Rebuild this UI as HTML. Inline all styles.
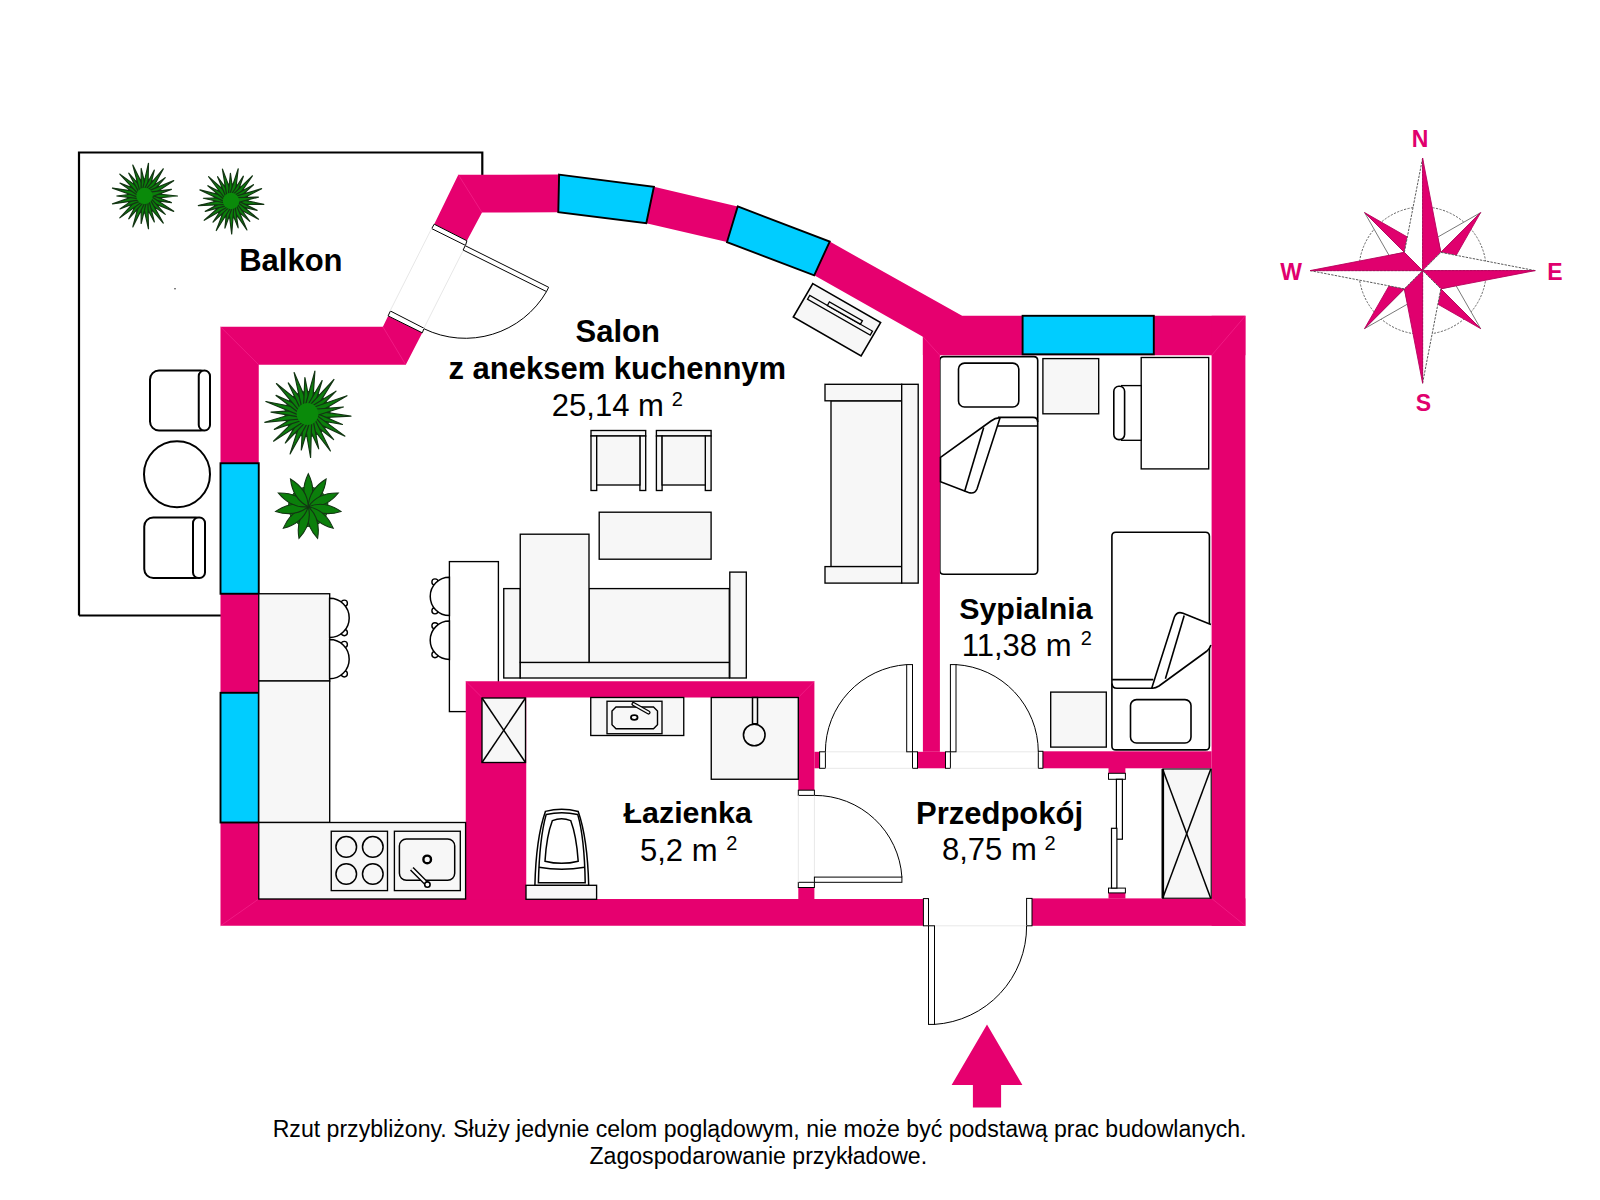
<!DOCTYPE html><html><head><meta charset="utf-8"><style>html,body{margin:0;padding:0;background:#fff;overflow:hidden;width:1600px;height:1200px;}svg{display:block;}text{font-family:"Liberation Sans",sans-serif;}</style></head><body>
<svg width="1600" height="1200" viewBox="0 0 1600 1200">
<rect width="1600" height="1200" fill="#fff"/>
<path d="M79,615.5 V152.5 H482.3 V176 M79,615.5 H221" fill="none" stroke="#000" stroke-width="2.2"/>
<circle cx="175" cy="288.8" r="0.8" fill="#333"/>
<path d="M939.8,360.4 Q939.8,356.6 943.8,356.6 H1033.7 Q1037.7,356.6 1037.7,360.6 V570.2 Q1037.7,574.2 1033.7,574.2 H943.8 Q939.8,574.2 939.8,570.2 Z" fill="#fff" stroke="#000" stroke-width="1.6"/>
<rect x="449.40" y="561.60" width="49.00" height="150.00" rx="0" fill="#fff" stroke="#000" stroke-width="1.35" />
<circle cx="434.98" cy="581.98" r="3.1" fill="#fff" stroke="#000" stroke-width="1.4"/>
<circle cx="434.98" cy="610.82" r="3.1" fill="#fff" stroke="#000" stroke-width="1.4"/>
<path d="M449.4,577.2 A19.20,19.20 0 0 0 449.4,615.6 Z" fill="#fff" stroke="#000" stroke-width="1.5"/>
<circle cx="434.98" cy="625.78" r="3.1" fill="#fff" stroke="#000" stroke-width="1.4"/>
<circle cx="434.98" cy="654.62" r="3.1" fill="#fff" stroke="#000" stroke-width="1.4"/>
<path d="M449.4,621 A19.20,19.20 0 0 0 449.4,659.4 Z" fill="#fff" stroke="#000" stroke-width="1.5"/>
<polygon points="458.30,174.70 559.10,174.60 653.90,186.70 737.70,206.40 829.70,241.60 962.10,315.80 1245.40,315.80 1245.40,355.30 922.90,355.30 922.90,336.70 814.20,275.30 727.00,242.10 646.30,223.30 558.30,212.20 482.00,212.50 466.90,240.80 434.20,224.20" fill="#E6006F" stroke="none" stroke-width="0" />
<polygon points="220.50,326.80 382.90,326.80 388.10,315.90 422.30,332.80 405.80,364.80 258.75,364.80 258.75,899.00 923.40,899.00 923.40,925.80 220.50,925.80" fill="#E6006F" stroke="none" stroke-width="0" />
<polygon points="465.75,681.25 814.40,681.25 814.40,790.20 798.30,790.20 798.30,697.50 526.25,697.50 526.25,899.50 465.75,899.50" fill="#E6006F" stroke="none" stroke-width="0" />
<rect x="798.30" y="887.50" width="16.10" height="12.00" rx="0" fill="#E6006F" stroke="none" stroke-width="0" />
<rect x="814.40" y="751.80" width="5.20" height="16.50" rx="0" fill="#E6006F" stroke="none" stroke-width="0" />
<rect x="922.90" y="336.00" width="17.00" height="415.80" rx="0" fill="#E6006F" stroke="none" stroke-width="0" />
<rect x="917.50" y="751.80" width="28.00" height="16.50" rx="0" fill="#E6006F" stroke="none" stroke-width="0" />
<rect x="1211.60" y="315.80" width="33.80" height="610.00" rx="0" fill="#E6006F" stroke="none" stroke-width="0" />
<rect x="1042.90" y="751.30" width="168.70" height="17.00" rx="0" fill="#E6006F" stroke="none" stroke-width="0" />
<rect x="1032.00" y="898.40" width="213.40" height="27.40" rx="0" fill="#E6006F" stroke="none" stroke-width="0" />
<rect x="1108.50" y="768.00" width="16.90" height="5.30" rx="0" fill="#E6006F" stroke="none" stroke-width="0" />
<rect x="1108.50" y="892.90" width="16.90" height="5.70" rx="0" fill="#E6006F" stroke="none" stroke-width="0" />
<line x1="220.50" y1="326.80" x2="258.75" y2="364.80" stroke="#FF3DA0" stroke-width="0.7" opacity="0.6"/>
<line x1="382.90" y1="326.80" x2="405.80" y2="364.80" stroke="#FF3DA0" stroke-width="0.7" opacity="0.6"/>
<line x1="458.30" y1="174.70" x2="482.00" y2="212.50" stroke="#FF3DA0" stroke-width="0.7" opacity="0.6"/>
<line x1="922.90" y1="336.70" x2="939.90" y2="355.30" stroke="#FF3DA0" stroke-width="0.7" opacity="0.6"/>
<line x1="1245.40" y1="315.80" x2="1211.60" y2="355.30" stroke="#FF3DA0" stroke-width="0.7" opacity="0.6"/>
<line x1="1245.40" y1="925.80" x2="1211.60" y2="898.40" stroke="#FF3DA0" stroke-width="0.7" opacity="0.6"/>
<line x1="220.50" y1="925.80" x2="258.75" y2="899.00" stroke="#FF3DA0" stroke-width="0.7" opacity="0.6"/>
<line x1="465.75" y1="681.25" x2="482.00" y2="697.50" stroke="#FF3DA0" stroke-width="0.7" opacity="0.6"/>
<line x1="814.40" y1="681.25" x2="798.30" y2="697.50" stroke="#FF3DA0" stroke-width="0.7" opacity="0.6"/>
<polygon points="388.10,315.90 390.40,311.00 424.10,328.30 422.30,332.80" fill="#fff" stroke="#000" stroke-width="1" />
<polygon points="434.20,224.20 431.70,228.60 465.50,245.40 466.90,240.80" fill="#fff" stroke="#000" stroke-width="1" />
<rect x="798.30" y="882.30" width="16.10" height="5.20" rx="0" fill="#fff" stroke="#000" stroke-width="1" />
<rect x="798.30" y="790.20" width="16.10" height="5.20" rx="0" fill="#fff" stroke="#000" stroke-width="1" />
<rect x="819.60" y="751.80" width="5.80" height="16.50" rx="0" fill="#fff" stroke="#000" stroke-width="1" />
<rect x="912.50" y="751.80" width="5.00" height="16.50" rx="0" fill="#fff" stroke="#000" stroke-width="1" />
<rect x="945.50" y="751.80" width="4.90" height="16.50" rx="0" fill="#fff" stroke="#000" stroke-width="1" />
<rect x="1038.30" y="751.30" width="4.60" height="17.00" rx="0" fill="#fff" stroke="#000" stroke-width="1" />
<rect x="1026.60" y="898.40" width="5.40" height="27.40" rx="0" fill="#fff" stroke="#000" stroke-width="1" />
<rect x="923.40" y="898.60" width="5.10" height="27.20" rx="0" fill="#fff" stroke="#000" stroke-width="1" />
<rect x="1108.50" y="773.30" width="16.90" height="6.00" rx="0" fill="#fff" stroke="#000" stroke-width="1" />
<rect x="1108.50" y="888.10" width="16.90" height="4.80" rx="0" fill="#fff" stroke="#000" stroke-width="1" />
<line x1="825.40" y1="751.80" x2="912.50" y2="751.80" stroke="#e8e8e8" stroke-width="1" />
<line x1="825.40" y1="768.30" x2="912.50" y2="768.30" stroke="#e8e8e8" stroke-width="1" />
<line x1="950.40" y1="751.80" x2="1038.30" y2="751.80" stroke="#e8e8e8" stroke-width="1" />
<line x1="950.40" y1="768.30" x2="1038.30" y2="768.30" stroke="#e8e8e8" stroke-width="1" />
<line x1="928.50" y1="925.80" x2="1026.60" y2="925.80" stroke="#e8e8e8" stroke-width="1" />
<line x1="431.80" y1="228.20" x2="389.80" y2="311.50" stroke="#e8e8e8" stroke-width="1" />
<line x1="465.80" y1="245.30" x2="423.50" y2="329.00" stroke="#e8e8e8" stroke-width="1" />
<line x1="798.30" y1="795.40" x2="798.30" y2="882.30" stroke="#e8e8e8" stroke-width="1" />
<line x1="814.40" y1="795.40" x2="814.40" y2="882.30" stroke="#e8e8e8" stroke-width="1" />
<polygon points="559.10,174.60 653.90,186.70 646.30,223.30 558.30,212.20" fill="#00CDFF" stroke="#000" stroke-width="1.9" />
<polygon points="737.70,206.40 829.70,241.60 814.20,275.30 727.00,242.10" fill="#00CDFF" stroke="#000" stroke-width="1.9" />
<rect x="1022.60" y="315.80" width="131.20" height="38.50" rx="0" fill="#00CDFF" stroke="#000" stroke-width="1.9" />
<rect x="220.50" y="463.25" width="38.25" height="130.50" rx="0" fill="#00CDFF" stroke="#000" stroke-width="1.9" />
<rect x="220.50" y="692.80" width="38.25" height="129.70" rx="0" fill="#00CDFF" stroke="#000" stroke-width="1.9" />
<polygon points="463.10,250.00 546.51,291.59 548.65,287.29 465.24,245.70" fill="#fff" stroke="#000" stroke-width="1" />
<path d="M546.51,291.59 A94,94 0 0 1 424.1,328.8" fill="none" stroke="#000" stroke-width="1"/>
<rect x="906.70" y="664.60" width="5.80" height="87.20" rx="0" fill="#fff" stroke="#000" stroke-width="1" />
<path d="M906.7,664.6 A87.2,87.2 0 0 0 825.4,751.8" fill="none" stroke="#000" stroke-width="1"/>
<rect x="950.40" y="664.60" width="5.60" height="87.20" rx="0" fill="#fff" stroke="#000" stroke-width="1" />
<path d="M956,664.6 A87.6,87.6 0 0 1 1038.3,751.8" fill="none" stroke="#000" stroke-width="1"/>
<rect x="814.40" y="877.10" width="87.50" height="5.20" rx="0" fill="#fff" stroke="#000" stroke-width="1" />
<path d="M901.9,877.1 A87.2,87.2 0 0 0 814.4,795.4" fill="none" stroke="#000" stroke-width="1"/>
<rect x="928.50" y="925.80" width="6.00" height="98.60" rx="0" fill="#fff" stroke="#000" stroke-width="1" />
<path d="M934.5,1024.4 A98.3,98.3 0 0 0 1026.6,925.8" fill="none" stroke="#000" stroke-width="1"/>
<rect x="258.75" y="593.75" width="70.95" height="87.25" rx="0" fill="#F7F7F7" stroke="#000" stroke-width="1.35" />
<rect x="258.75" y="681.00" width="70.95" height="141.50" rx="0" fill="#F7F7F7" stroke="#000" stroke-width="1.35" />
<rect x="258.75" y="822.50" width="206.85" height="76.50" rx="0" fill="#F7F7F7" stroke="#000" stroke-width="1.35" />
<rect x="331.25" y="831.25" width="56.25" height="59.35" rx="0" fill="#F7F7F7" stroke="#000" stroke-width="1.35" />
<circle cx="346.25" cy="846.9" r="10.3" fill="none" stroke="#000" stroke-width="1.5"/>
<circle cx="372.8" cy="846.9" r="10.3" fill="none" stroke="#000" stroke-width="1.5"/>
<circle cx="346.25" cy="874" r="10.3" fill="none" stroke="#000" stroke-width="1.5"/>
<circle cx="372.8" cy="874" r="10.3" fill="none" stroke="#000" stroke-width="1.5"/>
<rect x="394.40" y="831.25" width="65.90" height="59.35" rx="0" fill="#F7F7F7" stroke="#000" stroke-width="1.35" />
<rect x="399.40" y="839.00" width="55.30" height="41.30" rx="7" fill="#F7F7F7" stroke="#000" stroke-width="1.5" />
<circle cx="427.2" cy="859.4" r="3.8" fill="none" stroke="#000" stroke-width="2.4"/>
<line x1="411.8" y1="868.8" x2="426.5" y2="883.5" stroke="#000" stroke-width="5" stroke-linecap="butt"/>
<line x1="411.8" y1="868.8" x2="426.5" y2="883.5" stroke="#fff" stroke-width="2.2" stroke-linecap="butt"/>
<circle cx="427.4" cy="884.6" r="2.7" fill="#fff" stroke="#000" stroke-width="1.6"/>
<circle cx="344.31" cy="603.19" r="3.1" fill="#fff" stroke="#000" stroke-width="1.4"/>
<circle cx="344.31" cy="632.61" r="3.1" fill="#fff" stroke="#000" stroke-width="1.4"/>
<path d="M329.6,598.3 A19.60,19.60 0 0 1 329.6,637.5 Z" fill="#fff" stroke="#000" stroke-width="1.5"/>
<circle cx="344.29" cy="644.48" r="3.1" fill="#fff" stroke="#000" stroke-width="1.4"/>
<circle cx="344.29" cy="673.87" r="3.1" fill="#fff" stroke="#000" stroke-width="1.4"/>
<path d="M329.6,639.6 A19.57,19.57 0 0 1 329.6,678.75 Z" fill="#fff" stroke="#000" stroke-width="1.5"/>
<rect x="150.00" y="370.50" width="60.00" height="60.00" rx="9" fill="#fff" stroke="#000" stroke-width="2" />
<rect x="198.75" y="370.50" width="11.25" height="60.00" rx="5.5" fill="#fff" stroke="#000" stroke-width="2" />
<circle cx="177" cy="474.25" r="33" fill="#fff" stroke="#000" stroke-width="2"/>
<rect x="144.25" y="517.50" width="60.75" height="60.50" rx="9" fill="#fff" stroke="#000" stroke-width="2" />
<rect x="193.00" y="517.50" width="12.00" height="60.50" rx="5.5" fill="#fff" stroke="#000" stroke-width="2" />
<rect x="591.00" y="430.50" width="54.70" height="5.50" rx="0" fill="#F7F7F7" stroke="#000" stroke-width="1.35" />
<rect x="591.00" y="436.00" width="5.70" height="54.50" rx="0" fill="#F7F7F7" stroke="#000" stroke-width="1.35" />
<rect x="639.90" y="436.00" width="5.80" height="54.50" rx="0" fill="#F7F7F7" stroke="#000" stroke-width="1.35" />
<rect x="596.70" y="436.00" width="43.20" height="49.00" rx="0" fill="#F7F7F7" stroke="#000" stroke-width="1.35" />
<rect x="656.40" y="430.50" width="54.70" height="5.50" rx="0" fill="#F7F7F7" stroke="#000" stroke-width="1.35" />
<rect x="656.40" y="436.00" width="5.70" height="54.50" rx="0" fill="#F7F7F7" stroke="#000" stroke-width="1.35" />
<rect x="705.30" y="436.00" width="5.80" height="54.50" rx="0" fill="#F7F7F7" stroke="#000" stroke-width="1.35" />
<rect x="662.10" y="436.00" width="43.20" height="49.00" rx="0" fill="#F7F7F7" stroke="#000" stroke-width="1.35" />
<rect x="599.20" y="512.20" width="111.90" height="47.00" rx="0" fill="#F7F7F7" stroke="#000" stroke-width="1.35" />
<rect x="503.75" y="588.60" width="16.50" height="89.40" rx="0" fill="#F7F7F7" stroke="#000" stroke-width="1.35" />
<rect x="520.25" y="662.40" width="209.05" height="15.60" rx="0" fill="#F7F7F7" stroke="#000" stroke-width="1.35" />
<rect x="589.00" y="588.60" width="140.30" height="73.80" rx="0" fill="#F7F7F7" stroke="#000" stroke-width="1.35" />
<rect x="520.25" y="534.20" width="68.75" height="128.20" rx="0" fill="#F7F7F7" stroke="#000" stroke-width="1.35" />
<rect x="729.80" y="572.10" width="16.50" height="105.90" rx="0" fill="#F7F7F7" stroke="#000" stroke-width="1.35" />
<rect x="831.00" y="400.80" width="70.70" height="165.80" rx="0" fill="#F7F7F7" stroke="#000" stroke-width="1.35" />
<rect x="825.00" y="384.30" width="76.70" height="16.50" rx="0" fill="#F7F7F7" stroke="#000" stroke-width="1.35" />
<rect x="825.00" y="566.60" width="76.70" height="16.50" rx="0" fill="#F7F7F7" stroke="#000" stroke-width="1.35" />
<rect x="901.70" y="384.30" width="16.50" height="198.80" rx="0" fill="#F7F7F7" stroke="#000" stroke-width="1.35" />
<polygon points="812.80,283.60 880.60,322.60 861.10,356.00 793.30,317.00" fill="#F7F7F7" stroke="#000" stroke-width="1.6" />
<rect x="-36.10" y="-2.25" width="72.20" height="4.50" fill="#F7F7F7" stroke="#000" stroke-width="1.3" transform="translate(840.00,315.20) rotate(29.70)"/>
<rect x="-19.00" y="-2.00" width="38.00" height="4.00" fill="#F7F7F7" stroke="#000" stroke-width="1.3" transform="translate(844.90,313.10) rotate(29.70)"/>
<rect x="958.50" y="363.10" width="60.30" height="43.90" rx="6" fill="#fff" stroke="#000" stroke-width="1.6" />
<path d="M997.6,426 H1037.7 M998,417.4 H1033 Q1037.7,417.4 1037.7,422" fill="none" stroke="#000" stroke-width="1.6"/>
<path d="M940.5,457.4 L991,421 Q996,417.4 1000,418 L977,489 Q974.5,494.5 968.5,492.5 L940.5,481.8 Z" fill="#fff" stroke="#000" stroke-width="1.6"/>
<line x1="983.70" y1="427.60" x2="964.60" y2="491.40" stroke="#000" stroke-width="1.6" />
<rect x="1042.90" y="358.60" width="55.80" height="55.20" rx="0" fill="#F7F7F7" stroke="#000" stroke-width="1.35" />
<rect x="1141.20" y="357.50" width="67.50" height="111.40" rx="0" fill="#fff" stroke="#000" stroke-width="1.35" />
<rect x="1121.60" y="385.60" width="19.60" height="54.70" rx="0" fill="#fff" stroke="#000" stroke-width="1.35" />
<rect x="1113.80" y="386.30" width="10.80" height="53.30" rx="5" fill="#fff" stroke="#000" stroke-width="1.6" />
<path d="M1115.9,532.2 H1205.4 Q1209.4,532.2 1209.4,536.2 V745.9 Q1209.4,749.9 1205.4,749.9 H1115.9 Q1111.9,749.9 1111.9,745.9 V536.2 Q1111.9,532.2 1115.9,532.2 Z" fill="#fff" stroke="#000" stroke-width="1.6"/>
<rect x="1130.50" y="699.60" width="60.50" height="43.40" rx="6" fill="#fff" stroke="#000" stroke-width="1.6" />
<path d="M1112.1,679.6 H1153.3" fill="none" stroke="#000" stroke-width="1.6"/>
<path d="M1112.1,683.5 Q1112.1,688.3 1117,688.3 H1152" fill="none" stroke="#000" stroke-width="1.6"/>
<path d="M1210.9,624.6 L1183,613.3 Q1177,611 1174.4,617 L1151.7,688.2 Q1155,688.6 1159,686 L1207,651 Q1209.5,649 1210.9,645" fill="#fff" stroke="#000" stroke-width="1.6"/>
<line x1="1184.20" y1="615.40" x2="1165.40" y2="678.75" stroke="#000" stroke-width="1.6" />
<rect x="1050.70" y="692.10" width="55.60" height="55.00" rx="0" fill="#F7F7F7" stroke="#000" stroke-width="1.35" />
<rect x="1162.80" y="769.00" width="48.40" height="129.20" rx="0" fill="#F7F7F7" stroke="#000" stroke-width="1.1" />
<line x1="1162.80" y1="769.00" x2="1162.80" y2="898.20" stroke="#000" stroke-width="2.6" />
<line x1="1162.60" y1="769.10" x2="1210.80" y2="898.40" stroke="#000" stroke-width="1.5" />
<line x1="1210.80" y1="769.10" x2="1162.60" y2="898.40" stroke="#000" stroke-width="1.5" />
<rect x="1116.40" y="779.30" width="6.00" height="59.90" rx="0" fill="#fff" stroke="#000" stroke-width="1.2" />
<rect x="1111.50" y="828.30" width="5.40" height="59.80" rx="0" fill="#fff" stroke="#000" stroke-width="1.2" />
<rect x="482.00" y="698.00" width="43.50" height="64.50" rx="0" fill="#F7F7F7" stroke="#000" stroke-width="1.35" />
<line x1="482.00" y1="698.00" x2="525.50" y2="762.50" stroke="#000" stroke-width="1.5" />
<line x1="525.50" y1="698.00" x2="482.00" y2="762.50" stroke="#000" stroke-width="1.5" />
<rect x="590.75" y="697.50" width="93.00" height="38.00" rx="0" fill="#F7F7F7" stroke="#000" stroke-width="1.35" />
<rect x="607.00" y="701.25" width="55.00" height="32.50" rx="0" fill="#F7F7F7" stroke="#000" stroke-width="1.35" />
<path d="M616,707 H653.5 L657.5,711 V724.75 L653.5,728.75 H616 L612,724.75 V711 Z" fill="#f7f7f7" stroke="#000" stroke-width="1.4"/>
<ellipse cx="634.25" cy="717.5" rx="3.3" ry="2.3" fill="#fff" stroke="#000" stroke-width="1.8"/>
<line x1="633.5" y1="704" x2="648.5" y2="712.5" stroke="#000" stroke-width="4.2" stroke-linecap="round"/>
<line x1="633.5" y1="704" x2="648.5" y2="712.5" stroke="#f7f7f7" stroke-width="1.6" stroke-linecap="round"/>
<rect x="711.25" y="697.50" width="87.05" height="81.75" rx="0" fill="#F7F7F7" stroke="#000" stroke-width="1.35" />
<rect x="752.50" y="697.50" width="5.00" height="26.25" rx="0" fill="#F7F7F7" stroke="#000" stroke-width="1.5" />
<circle cx="754.25" cy="735" r="10.8" fill="#f7f7f7" stroke="#000" stroke-width="1.6"/>
<rect x="526.00" y="885.30" width="70.60" height="14.00" rx="0" fill="#F7F7F7" stroke="#000" stroke-width="1.35" />
<path d="M534.9,885.3 Q536,838 545.4,811.4 Q561.6,807 578.2,811.4 Q587.5,838 588.7,885.3 Z" fill="#fff" stroke="#000" stroke-width="1.5"/>
<path d="M538.4,882.7 Q539.5,838 546.2,814.4 Q561.6,811 577.7,814.4 Q584.5,838 585.2,882.7 Z" fill="#fff" stroke="#000" stroke-width="1.5"/>
<path d="M538.9,867.2 Q561.6,871.5 584.7,867.2" fill="none" stroke="#000" stroke-width="1.5"/>
<path d="M545,861.2 Q546.5,836 552.4,820.6 Q561.6,817 570.7,820.6 Q576.5,836 578.2,861.2 Q561.6,865.5 545,861.2 Z" fill="#fff" stroke="#000" stroke-width="1.5"/>
<g transform="translate(144.5,196)"><circle r="17.16" fill="#0B7F0B" stroke="#133513" stroke-width="1"/><polygon points="-0.00,3.30 33.00,0.00 0.00,-3.30" fill="#0B7F0B" stroke="#133513" stroke-width="1.2" stroke-linejoin="round"/><polygon points="-0.79,3.20 26.91,6.63 0.79,-3.20" fill="#0B7F0B" stroke="#133513" stroke-width="1.2" stroke-linejoin="round"/><polygon points="-1.53,2.92 29.22,15.34 1.53,-2.92" fill="#0B7F0B" stroke="#133513" stroke-width="1.2" stroke-linejoin="round"/><polygon points="-2.19,2.47 20.75,18.38 2.19,-2.47" fill="#0B7F0B" stroke="#133513" stroke-width="1.2" stroke-linejoin="round"/><polygon points="-2.72,1.87 18.75,27.16 2.72,-1.87" fill="#0B7F0B" stroke="#133513" stroke-width="1.2" stroke-linejoin="round"/><polygon points="-3.09,1.17 9.83,25.92 3.09,-1.17" fill="#0B7F0B" stroke="#133513" stroke-width="1.2" stroke-linejoin="round"/><polygon points="-3.28,0.40 3.98,32.76 3.28,-0.40" fill="#0B7F0B" stroke="#133513" stroke-width="1.2" stroke-linejoin="round"/><polygon points="-3.28,-0.40 -3.34,27.52 3.28,0.40" fill="#0B7F0B" stroke="#133513" stroke-width="1.2" stroke-linejoin="round"/><polygon points="-3.09,-1.17 -11.70,30.86 3.09,1.17" fill="#0B7F0B" stroke="#133513" stroke-width="1.2" stroke-linejoin="round"/><polygon points="-2.72,-1.87 -15.75,22.81 2.72,1.87" fill="#0B7F0B" stroke="#133513" stroke-width="1.2" stroke-linejoin="round"/><polygon points="-2.19,-2.47 -24.70,21.88 2.19,2.47" fill="#0B7F0B" stroke="#133513" stroke-width="1.2" stroke-linejoin="round"/><polygon points="-1.53,-2.92 -24.54,12.88 1.53,2.92" fill="#0B7F0B" stroke="#133513" stroke-width="1.2" stroke-linejoin="round"/><polygon points="-0.79,-3.20 -32.04,7.90 0.79,3.20" fill="#0B7F0B" stroke="#133513" stroke-width="1.2" stroke-linejoin="round"/><polygon points="0.00,-3.30 -27.72,-0.00 -0.00,3.30" fill="#0B7F0B" stroke="#133513" stroke-width="1.2" stroke-linejoin="round"/><polygon points="0.79,-3.20 -32.04,-7.90 -0.79,3.20" fill="#0B7F0B" stroke="#133513" stroke-width="1.2" stroke-linejoin="round"/><polygon points="1.53,-2.92 -24.54,-12.88 -1.53,2.92" fill="#0B7F0B" stroke="#133513" stroke-width="1.2" stroke-linejoin="round"/><polygon points="2.19,-2.47 -24.70,-21.88 -2.19,2.47" fill="#0B7F0B" stroke="#133513" stroke-width="1.2" stroke-linejoin="round"/><polygon points="2.72,-1.87 -15.75,-22.81 -2.72,1.87" fill="#0B7F0B" stroke="#133513" stroke-width="1.2" stroke-linejoin="round"/><polygon points="3.09,-1.17 -11.70,-30.86 -3.09,1.17" fill="#0B7F0B" stroke="#133513" stroke-width="1.2" stroke-linejoin="round"/><polygon points="3.28,-0.40 -3.34,-27.52 -3.28,0.40" fill="#0B7F0B" stroke="#133513" stroke-width="1.2" stroke-linejoin="round"/><polygon points="3.28,0.40 3.98,-32.76 -3.28,-0.40" fill="#0B7F0B" stroke="#133513" stroke-width="1.2" stroke-linejoin="round"/><polygon points="3.09,1.17 9.83,-25.92 -3.09,-1.17" fill="#0B7F0B" stroke="#133513" stroke-width="1.2" stroke-linejoin="round"/><polygon points="2.72,1.87 18.75,-27.16 -2.72,-1.87" fill="#0B7F0B" stroke="#133513" stroke-width="1.2" stroke-linejoin="round"/><polygon points="2.19,2.47 20.75,-18.38 -2.19,-2.47" fill="#0B7F0B" stroke="#133513" stroke-width="1.2" stroke-linejoin="round"/><polygon points="1.53,2.92 29.22,-15.34 -1.53,-2.92" fill="#0B7F0B" stroke="#133513" stroke-width="1.2" stroke-linejoin="round"/><polygon points="0.79,3.20 26.91,-6.63 -0.79,-3.20" fill="#0B7F0B" stroke="#133513" stroke-width="1.2" stroke-linejoin="round"/><circle r="8.25" fill="#0A8A0A"/></g><g transform="translate(231,201)"><circle r="17.16" fill="#0B7F0B" stroke="#133513" stroke-width="1"/><polygon points="-0.33,3.28 32.84,3.29 0.33,-3.28" fill="#0B7F0B" stroke="#133513" stroke-width="1.2" stroke-linejoin="round"/><polygon points="-1.11,3.11 26.12,9.29 1.11,-3.11" fill="#0B7F0B" stroke="#133513" stroke-width="1.2" stroke-linejoin="round"/><polygon points="-1.82,2.75 27.54,18.18 1.82,-2.75" fill="#0B7F0B" stroke="#133513" stroke-width="1.2" stroke-linejoin="round"/><polygon points="-2.42,2.24 18.81,20.36 2.42,-2.24" fill="#0B7F0B" stroke="#133513" stroke-width="1.2" stroke-linejoin="round"/><polygon points="-2.89,1.59 15.94,28.89 2.89,-1.59" fill="#0B7F0B" stroke="#133513" stroke-width="1.2" stroke-linejoin="round"/><polygon points="-3.19,0.86 7.19,26.77 3.19,-0.86" fill="#0B7F0B" stroke="#133513" stroke-width="1.2" stroke-linejoin="round"/><polygon points="-3.30,0.07 0.69,32.99 3.30,-0.07" fill="#0B7F0B" stroke="#133513" stroke-width="1.2" stroke-linejoin="round"/><polygon points="-3.22,-0.72 -6.07,27.05 3.22,0.72" fill="#0B7F0B" stroke="#133513" stroke-width="1.2" stroke-linejoin="round"/><polygon points="-2.95,-1.47 -14.72,29.53 2.95,1.47" fill="#0B7F0B" stroke="#133513" stroke-width="1.2" stroke-linejoin="round"/><polygon points="-2.52,-2.14 -17.95,21.13 2.52,2.14" fill="#0B7F0B" stroke="#133513" stroke-width="1.2" stroke-linejoin="round"/><polygon points="-1.93,-2.68 -26.76,19.31 1.93,2.68" fill="#0B7F0B" stroke="#133513" stroke-width="1.2" stroke-linejoin="round"/><polygon points="-1.23,-3.06 -25.71,10.37 1.23,3.06" fill="#0B7F0B" stroke="#133513" stroke-width="1.2" stroke-linejoin="round"/><polygon points="-0.47,-3.27 -32.67,4.66 0.47,3.27" fill="#0B7F0B" stroke="#133513" stroke-width="1.2" stroke-linejoin="round"/><polygon points="0.33,-3.28 -27.58,-2.77 -0.33,3.28" fill="#0B7F0B" stroke="#133513" stroke-width="1.2" stroke-linejoin="round"/><polygon points="1.11,-3.11 -31.09,-11.06 -1.11,3.11" fill="#0B7F0B" stroke="#133513" stroke-width="1.2" stroke-linejoin="round"/><polygon points="1.82,-2.75 -23.14,-15.27 -1.82,2.75" fill="#0B7F0B" stroke="#133513" stroke-width="1.2" stroke-linejoin="round"/><polygon points="2.42,-2.24 -22.39,-24.24 -2.42,2.24" fill="#0B7F0B" stroke="#133513" stroke-width="1.2" stroke-linejoin="round"/><polygon points="2.89,-1.59 -13.39,-24.27 -2.89,1.59" fill="#0B7F0B" stroke="#133513" stroke-width="1.2" stroke-linejoin="round"/><polygon points="3.19,-0.86 -8.56,-31.87 -3.19,0.86" fill="#0B7F0B" stroke="#133513" stroke-width="1.2" stroke-linejoin="round"/><polygon points="3.30,-0.07 -0.58,-27.71 -3.30,0.07" fill="#0B7F0B" stroke="#133513" stroke-width="1.2" stroke-linejoin="round"/><polygon points="3.22,0.72 7.23,-32.20 -3.22,-0.72" fill="#0B7F0B" stroke="#133513" stroke-width="1.2" stroke-linejoin="round"/><polygon points="2.95,1.47 12.37,-24.81 -2.95,-1.47" fill="#0B7F0B" stroke="#133513" stroke-width="1.2" stroke-linejoin="round"/><polygon points="2.52,2.14 21.36,-25.15 -2.52,-2.14" fill="#0B7F0B" stroke="#133513" stroke-width="1.2" stroke-linejoin="round"/><polygon points="1.93,2.68 22.48,-16.22 -1.93,-2.68" fill="#0B7F0B" stroke="#133513" stroke-width="1.2" stroke-linejoin="round"/><polygon points="1.23,3.06 30.61,-12.34 -1.23,-3.06" fill="#0B7F0B" stroke="#133513" stroke-width="1.2" stroke-linejoin="round"/><polygon points="0.47,3.27 27.44,-3.91 -0.47,-3.27" fill="#0B7F0B" stroke="#133513" stroke-width="1.2" stroke-linejoin="round"/><circle r="8.25" fill="#0A8A0A"/></g><g transform="translate(307.5,414)"><circle r="22.62" fill="#0B7F0B" stroke="#133513" stroke-width="1"/><polygon points="-0.22,4.34 43.45,2.17 0.22,-4.34" fill="#0B7F0B" stroke="#133513" stroke-width="1.2" stroke-linejoin="round"/><polygon points="-1.25,4.17 35.00,10.51 1.25,-4.17" fill="#0B7F0B" stroke="#133513" stroke-width="1.2" stroke-linejoin="round"/><polygon points="-2.21,3.75 37.46,22.12 2.21,-3.75" fill="#0B7F0B" stroke="#133513" stroke-width="1.2" stroke-linejoin="round"/><polygon points="-3.04,3.11 26.11,25.57 3.04,-3.11" fill="#0B7F0B" stroke="#133513" stroke-width="1.2" stroke-linejoin="round"/><polygon points="-3.70,2.29 22.89,36.99 3.70,-2.29" fill="#0B7F0B" stroke="#133513" stroke-width="1.2" stroke-linejoin="round"/><polygon points="-4.14,1.34 11.23,34.77 4.14,-1.34" fill="#0B7F0B" stroke="#133513" stroke-width="1.2" stroke-linejoin="round"/><polygon points="-4.34,0.31 3.08,43.39 4.34,-0.31" fill="#0B7F0B" stroke="#133513" stroke-width="1.2" stroke-linejoin="round"/><polygon points="-4.29,-0.74 -6.21,36.01 4.29,0.74" fill="#0B7F0B" stroke="#133513" stroke-width="1.2" stroke-linejoin="round"/><polygon points="-3.99,-1.74 -17.44,39.85 3.99,1.74" fill="#0B7F0B" stroke="#133513" stroke-width="1.2" stroke-linejoin="round"/><polygon points="-3.45,-2.65 -22.23,29.00 3.45,2.65" fill="#0B7F0B" stroke="#133513" stroke-width="1.2" stroke-linejoin="round"/><polygon points="-2.72,-3.40 -33.96,27.18 2.72,3.40" fill="#0B7F0B" stroke="#133513" stroke-width="1.2" stroke-linejoin="round"/><polygon points="-1.83,-3.95 -33.16,15.34 1.83,3.95" fill="#0B7F0B" stroke="#133513" stroke-width="1.2" stroke-linejoin="round"/><polygon points="-0.83,-4.27 -42.70,8.29 0.83,4.27" fill="#0B7F0B" stroke="#133513" stroke-width="1.2" stroke-linejoin="round"/><polygon points="0.22,-4.34 -36.49,-1.83 -0.22,4.34" fill="#0B7F0B" stroke="#133513" stroke-width="1.2" stroke-linejoin="round"/><polygon points="1.25,-4.17 -41.66,-12.51 -1.25,4.17" fill="#0B7F0B" stroke="#133513" stroke-width="1.2" stroke-linejoin="round"/><polygon points="2.21,-3.75 -31.47,-18.58 -2.21,3.75" fill="#0B7F0B" stroke="#133513" stroke-width="1.2" stroke-linejoin="round"/><polygon points="3.04,-3.11 -31.08,-30.44 -3.04,3.11" fill="#0B7F0B" stroke="#133513" stroke-width="1.2" stroke-linejoin="round"/><polygon points="3.70,-2.29 -19.23,-31.07 -3.70,2.29" fill="#0B7F0B" stroke="#133513" stroke-width="1.2" stroke-linejoin="round"/><polygon points="4.14,-1.34 -13.37,-41.39 -4.14,1.34" fill="#0B7F0B" stroke="#133513" stroke-width="1.2" stroke-linejoin="round"/><polygon points="4.34,-0.31 -2.59,-36.45 -4.34,0.31" fill="#0B7F0B" stroke="#133513" stroke-width="1.2" stroke-linejoin="round"/><polygon points="4.29,0.74 7.40,-42.87 -4.29,-0.74" fill="#0B7F0B" stroke="#133513" stroke-width="1.2" stroke-linejoin="round"/><polygon points="3.99,1.74 14.65,-33.48 -3.99,-1.74" fill="#0B7F0B" stroke="#133513" stroke-width="1.2" stroke-linejoin="round"/><polygon points="3.45,2.65 26.47,-34.52 -3.45,-2.65" fill="#0B7F0B" stroke="#133513" stroke-width="1.2" stroke-linejoin="round"/><polygon points="2.72,3.40 28.53,-22.83 -2.72,-3.40" fill="#0B7F0B" stroke="#133513" stroke-width="1.2" stroke-linejoin="round"/><polygon points="1.83,3.95 39.48,-18.27 -1.83,-3.95" fill="#0B7F0B" stroke="#133513" stroke-width="1.2" stroke-linejoin="round"/><polygon points="0.83,4.27 35.87,-6.96 -0.83,-4.27" fill="#0B7F0B" stroke="#133513" stroke-width="1.2" stroke-linejoin="round"/><circle r="10.88" fill="#0A8A0A"/></g><g transform="translate(308.3,506.7)"><circle r="19.80" fill="#0B7F0B" stroke="#133513" stroke-width="1"/><path d="M0,0 Q14.85,-8.91 33.00,0 Q14.85,8.91 0,0 Z" fill="#0B7F0B" stroke="#133513" stroke-width="1.1" transform="rotate(-90.0)"/><path d="M0,0 Q14.85,-8.91 33.00,0 Q14.85,8.91 0,0 Z" fill="#0B7F0B" stroke="#133513" stroke-width="1.1" transform="rotate(-57.3)"/><path d="M0,0 Q14.85,-8.91 33.00,0 Q14.85,8.91 0,0 Z" fill="#0B7F0B" stroke="#133513" stroke-width="1.1" transform="rotate(-24.5)"/><path d="M0,0 Q14.85,-8.91 33.00,0 Q14.85,8.91 0,0 Z" fill="#0B7F0B" stroke="#133513" stroke-width="1.1" transform="rotate(8.2)"/><path d="M0,0 Q14.85,-8.91 33.00,0 Q14.85,8.91 0,0 Z" fill="#0B7F0B" stroke="#133513" stroke-width="1.1" transform="rotate(40.9)"/><path d="M0,0 Q14.85,-8.91 33.00,0 Q14.85,8.91 0,0 Z" fill="#0B7F0B" stroke="#133513" stroke-width="1.1" transform="rotate(73.6)"/><path d="M0,0 Q14.85,-8.91 33.00,0 Q14.85,8.91 0,0 Z" fill="#0B7F0B" stroke="#133513" stroke-width="1.1" transform="rotate(106.4)"/><path d="M0,0 Q14.85,-8.91 33.00,0 Q14.85,8.91 0,0 Z" fill="#0B7F0B" stroke="#133513" stroke-width="1.1" transform="rotate(139.1)"/><path d="M0,0 Q14.85,-8.91 33.00,0 Q14.85,8.91 0,0 Z" fill="#0B7F0B" stroke="#133513" stroke-width="1.1" transform="rotate(171.8)"/><path d="M0,0 Q14.85,-8.91 33.00,0 Q14.85,8.91 0,0 Z" fill="#0B7F0B" stroke="#133513" stroke-width="1.1" transform="rotate(204.5)"/><path d="M0,0 Q14.85,-8.91 33.00,0 Q14.85,8.91 0,0 Z" fill="#0B7F0B" stroke="#133513" stroke-width="1.1" transform="rotate(237.3)"/></g>
<circle cx="1422.6" cy="270.6" r="63.7" fill="none" stroke="#666" stroke-width="1" stroke-dasharray="2.2,1.4"/><polygon points="1480.58,212.62 1437.45,237.26 1440.84,252.36" fill="#fff" stroke="#6a6a6a" stroke-width="0.9"/><polygon points="1480.58,212.62 1455.94,255.75 1440.84,252.36" fill="#E0006E" stroke="#B8005C" stroke-width="0.9"/><polygon points="1480.58,328.58 1455.94,285.45 1440.84,288.84" fill="#fff" stroke="#6a6a6a" stroke-width="0.9"/><polygon points="1480.58,328.58 1437.45,303.94 1440.84,288.84" fill="#E0006E" stroke="#B8005C" stroke-width="0.9"/><polygon points="1364.62,328.58 1407.75,303.94 1404.36,288.84" fill="#fff" stroke="#6a6a6a" stroke-width="0.9"/><polygon points="1364.62,328.58 1389.26,285.45 1404.36,288.84" fill="#E0006E" stroke="#B8005C" stroke-width="0.9"/><polygon points="1364.62,212.62 1389.26,255.75 1404.36,252.36" fill="#fff" stroke="#6a6a6a" stroke-width="0.9"/><polygon points="1364.62,212.62 1407.75,237.26 1404.36,252.36" fill="#E0006E" stroke="#B8005C" stroke-width="0.9"/><polygon points="1422.60,158.00 1404.36,252.36 1422.60,270.60" fill="#fff" stroke="#5a5a5a" stroke-width="1" stroke-dasharray="2.4,1.2"/><polygon points="1422.60,158.00 1440.84,252.36 1422.60,270.60" fill="#E0006E" stroke="#B8005C" stroke-width="0.9"/><polygon points="1535.20,270.60 1440.84,252.36 1422.60,270.60" fill="#fff" stroke="#5a5a5a" stroke-width="1" stroke-dasharray="2.4,1.2"/><polygon points="1535.20,270.60 1440.84,288.84 1422.60,270.60" fill="#E0006E" stroke="#B8005C" stroke-width="0.9"/><polygon points="1422.60,383.20 1440.84,288.84 1422.60,270.60" fill="#fff" stroke="#5a5a5a" stroke-width="1" stroke-dasharray="2.4,1.2"/><polygon points="1422.60,383.20 1404.36,288.84 1422.60,270.60" fill="#E0006E" stroke="#B8005C" stroke-width="0.9"/><polygon points="1310.00,270.60 1404.36,288.84 1422.60,270.60" fill="#fff" stroke="#5a5a5a" stroke-width="1" stroke-dasharray="2.4,1.2"/><polygon points="1310.00,270.60 1404.36,252.36 1422.60,270.60" fill="#E0006E" stroke="#B8005C" stroke-width="0.9"/><text x="1420" y="147" font-size="23" font-weight="bold" text-anchor="middle" fill="#E0006E">N</text><text x="1423.4" y="411.2" font-size="23" font-weight="bold" text-anchor="middle" fill="#E0006E">S</text><text x="1291" y="280.2" font-size="23" font-weight="bold" text-anchor="middle" fill="#E0006E">W</text><text x="1554.8" y="280.2" font-size="23" font-weight="bold" text-anchor="middle" fill="#E0006E">E</text>
<polygon points="987.00,1024.40 1022.40,1085.00 1001.10,1085.00 1001.10,1107.50 972.90,1107.50 972.90,1085.00 951.60,1085.00" fill="#E6006F" stroke="none" stroke-width="0" />
<text x="239.2" y="270.5" font-size="31" font-weight="bold" text-anchor="start" fill="#000" >Balkon</text>
<text x="617.7" y="342" font-size="31" font-weight="bold" text-anchor="middle" fill="#000" >Salon</text>
<text x="617.3" y="378.6" font-size="31" font-weight="bold" text-anchor="middle" fill="#000" >z aneksem kuchennym</text>
<text x="551.8" y="416" font-size="31" font-weight="normal" text-anchor="start" fill="#000" >25,14 m</text>
<text x="671.8" y="405.8" font-size="20" font-weight="normal" text-anchor="start" fill="#000" >2</text>
<text x="959.2" y="618.9" font-size="30.4" font-weight="bold" text-anchor="start" fill="#000" >Sypialnia</text>
<text x="961.8" y="655.5" font-size="31" font-weight="normal" text-anchor="start" fill="#000" >11,38 m</text>
<text x="1080.75" y="645.3" font-size="20" font-weight="normal" text-anchor="start" fill="#000" >2</text>
<text x="623.5" y="823" font-size="30.4" font-weight="bold" text-anchor="start" fill="#000" >Łazienka</text>
<text x="640" y="860.5" font-size="31" font-weight="normal" text-anchor="start" fill="#000" >5,2 m</text>
<text x="726.25" y="850.3" font-size="20" font-weight="normal" text-anchor="start" fill="#000" >2</text>
<text x="916" y="824.1" font-size="31" font-weight="bold" text-anchor="start" fill="#000" >Przedpokój</text>
<text x="942" y="859.9" font-size="31" font-weight="normal" text-anchor="start" fill="#000" >8,75 m</text>
<text x="1044.4" y="849.7" font-size="20" font-weight="normal" text-anchor="start" fill="#000" >2</text>
<text x="759.6" y="1136.9" font-size="23.1" font-weight="normal" text-anchor="middle" fill="#000" >Rzut przybliżony. Służy jedynie celom poglądowym, nie może być podstawą prac budowlanych.</text>
<text x="758.3" y="1164.4" font-size="23.1" font-weight="normal" text-anchor="middle" fill="#000" >Zagospodarowanie przykładowe.</text>
</svg></body></html>
